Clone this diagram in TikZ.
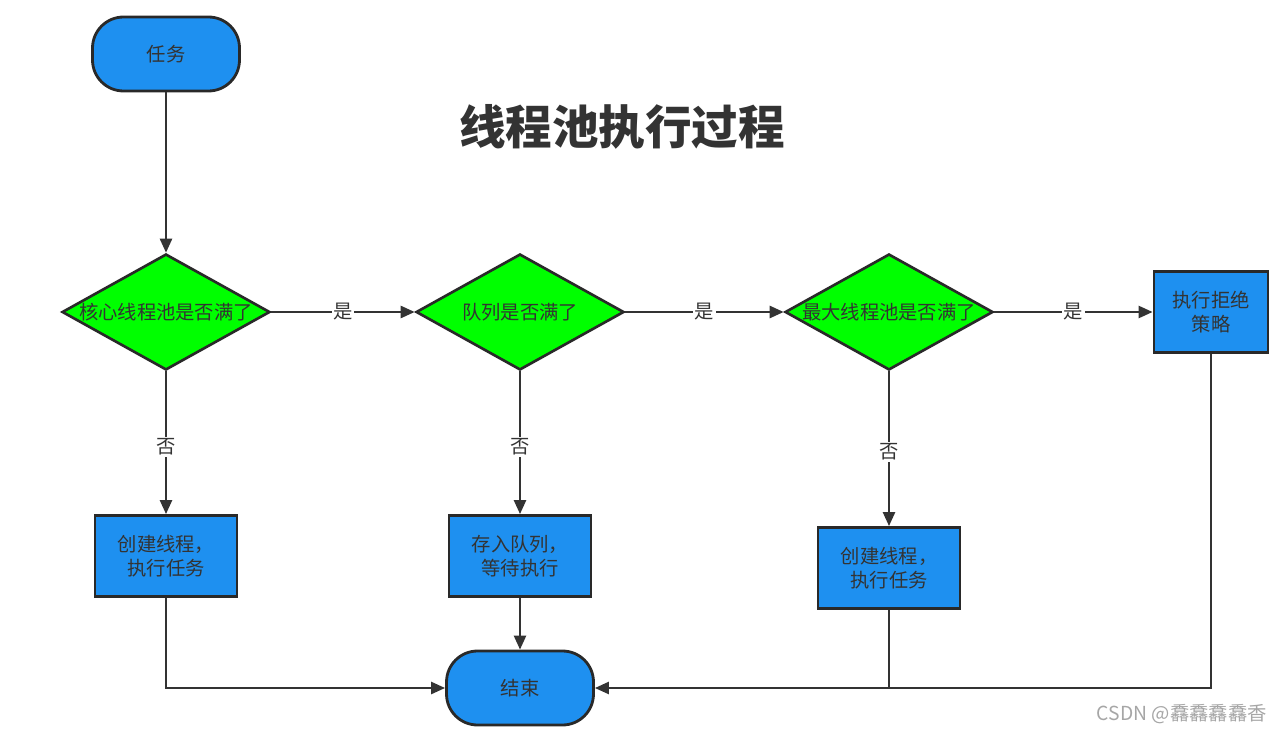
\documentclass[tikz,border=0pt]{standalone}
\usepackage{fontspec}
\setmainfont{Noto Sans CJK SC}
\usepackage{xcolor}
\usepackage{tikz}
\usetikzlibrary{shapes.geometric,arrows.meta,positioning,calc}

\definecolor{boxblue}{RGB}{30,144,240}
\definecolor{decgreen}{RGB}{0,255,0}
\definecolor{inkgray}{RGB}{51,51,51}

\begin{document}
\begin{tikzpicture}[
    x=0.02cm, y=-0.02cm,
    terminal/.style={rectangle, rounded corners=0.62cm, draw=inkgray!80!black, line width=1.6pt, fill=boxblue, minimum width=2.94cm, minimum height=1.48cm, font=\fontsize{11pt}{13pt}\selectfont, text=inkgray},
    decision/.style={diamond, draw=inkgray!80!black, line width=1.5pt, fill=decgreen, minimum width=4.16cm, minimum height=2.32cm, inner sep=0pt, label={[font=\fontsize{11pt}{13pt}\selectfont, text=inkgray]center:#1}},
    process/.style={rectangle, draw=inkgray!80!black, line width=1.6pt, fill=boxblue, minimum width=2.84cm, minimum height=1.62cm, align=center, font=\fontsize{11pt}{14pt}\selectfont, text=inkgray},
    edge/.style={draw=inkgray, line width=1.4pt},
    arrow/.style={edge, -{Triangle[length=0.28cm, width=0.24cm]}},
    lbl/.style={fill=white, inner sep=1pt, font=\fontsize{11pt}{13pt}\selectfont, text=inkgray}
]
    \useasboundingbox (0,0) rectangle (1288,733);

    % Title
    \node[font=\fontsize{26.5pt}{30pt}\selectfont\bfseries, text=inkgray] (title) at (622,127) {线程池执行过程};

    % Start and end
    \node[terminal] (task) at (166,54) {任务};
    \node[terminal] (stop) at (520,688) {结束};

    % Decisions
    \node[decision=核心线程池是否满了] (d1) at (166,312) {};
    \node[decision=队列是否满了] (d2) at (520,312) {};
    \node[decision=最大线程池是否满了] (d3) at (889,312) {};

    % Actions
    \node[process, minimum width=2.28cm] (reject) at (1211,312) {执行拒绝\\策略};
    \node[process] (b1) at (166,556) {创建线程，\\执行任务};
    \node[process] (b2) at (520,556) {存入队列，\\等待执行};
    \node[process] (b3) at (889,568) {创建线程，\\执行任务};

    % Yes branches
    \draw[arrow] (task) -- (d1);
    \draw[arrow] (d1.east) -- node[lbl] {是} (d2.west);
    \draw[arrow] (d2.east) -- node[lbl] {是} (d3.west);
    \draw[arrow] (d3.east) -- node[lbl] {是} (reject.west);

    % No branches
    \draw[arrow] (d1.south) -- node[lbl, pos=0.53] {否} (b1.north);
    \draw[arrow] (d2.south) -- node[lbl, pos=0.53] {否} (b2.north);
    \draw[arrow] (d3.south) -- node[lbl, pos=0.52] {否} (b3.north);

    % To the end
    \draw[arrow] (b1.south) |- (stop.west);
    \draw[arrow] (b2.south) -- (stop.north);
    \draw[edge] (b3.south) -- (b3.south |- stop.east);
    \draw[arrow] (reject.south) |- (stop.east);

    % Watermark
    \node[anchor=east, font=\fontsize{11pt}{13pt}\selectfont, text=gray!70] (mark) at (1273,714) {CSDN @馫馫馫馫香};
\end{tikzpicture}
\end{document}
